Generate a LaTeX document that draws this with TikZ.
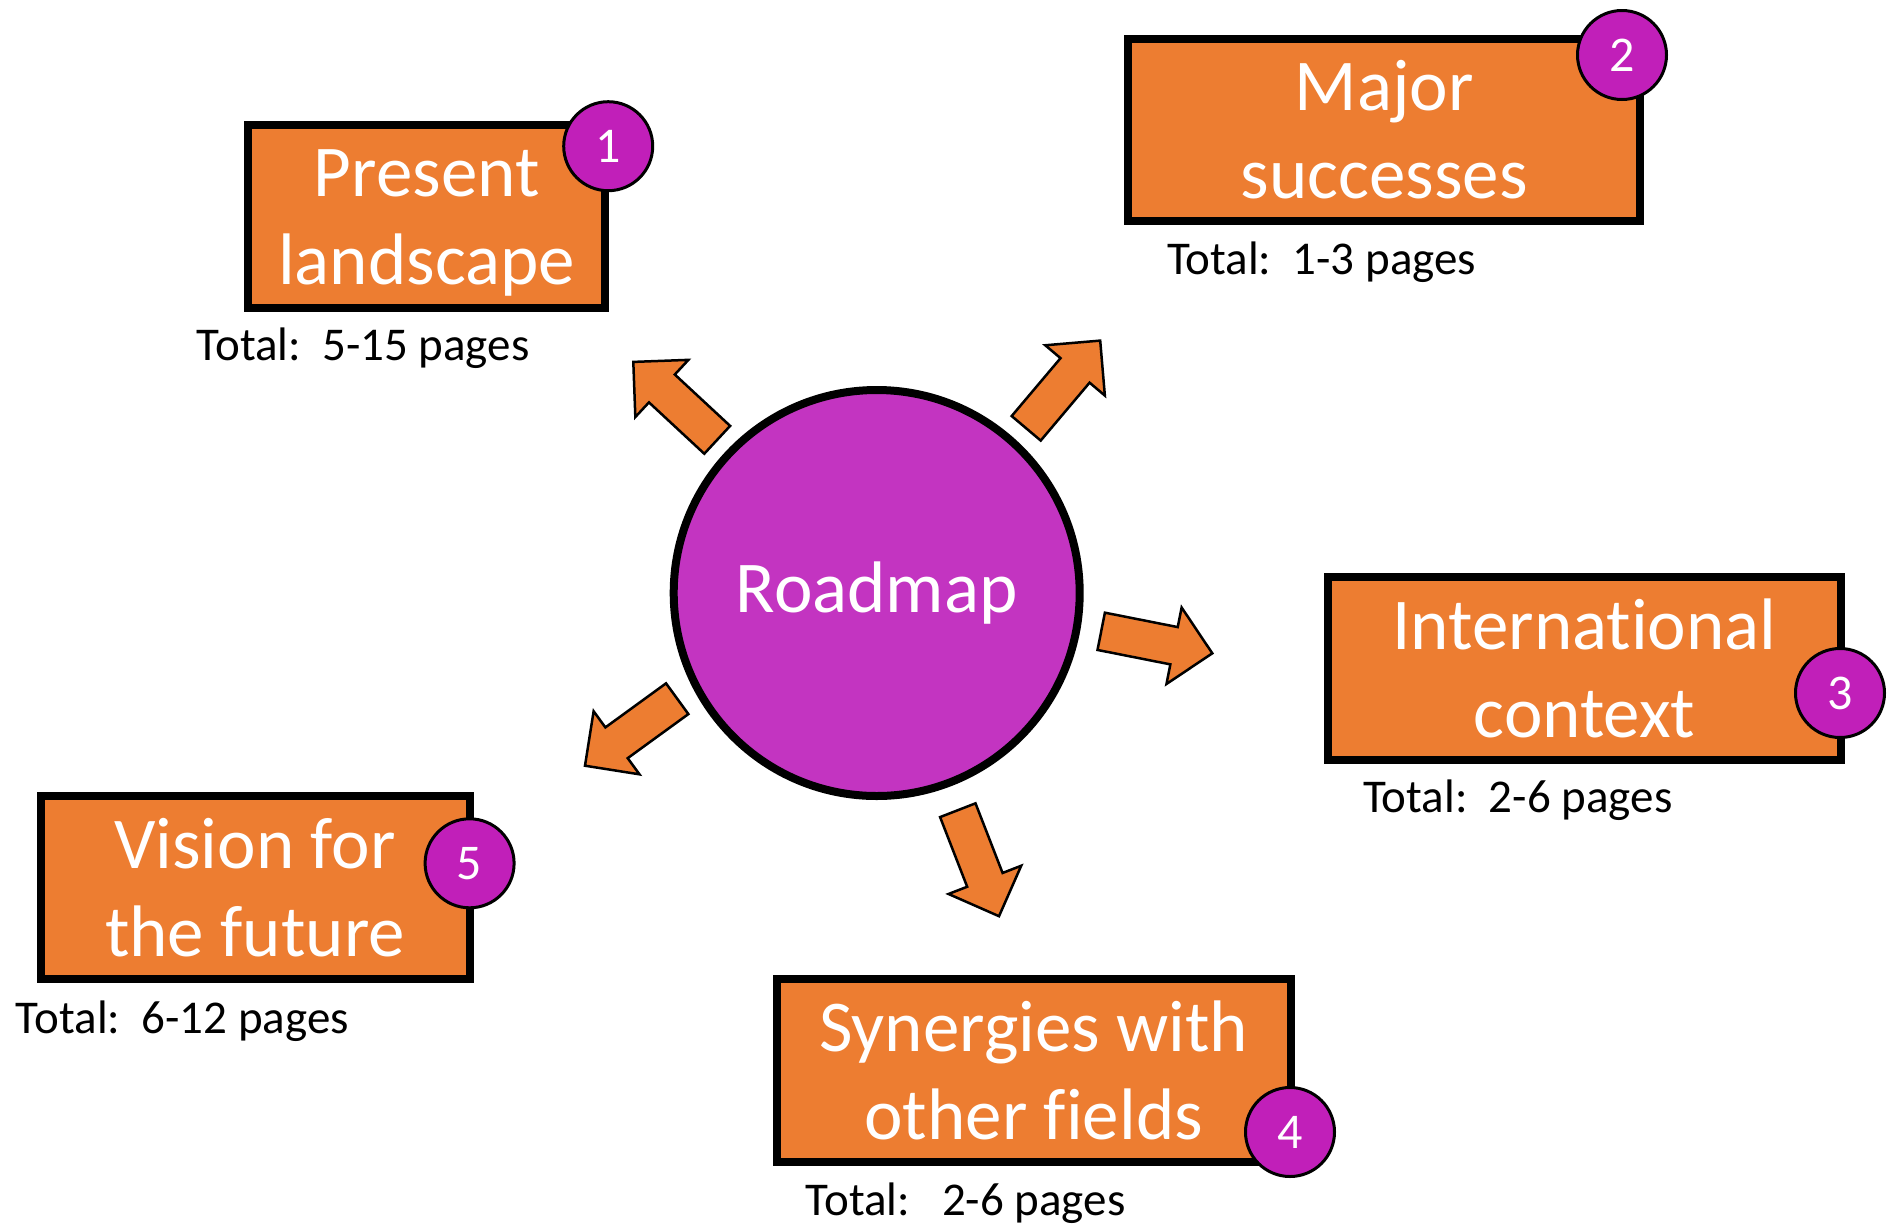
\documentclass[tikz,border=0pt]{standalone}
\usepackage{fontspec}
\setmainfont{Carlito}[Ligatures=NoCommon]
\usetikzlibrary{calc}
\definecolor{boxorange}{HTML}{ED7D31}
\definecolor{bigpurple}{HTML}{C334C1}
\definecolor{badgepurple}{HTML}{C11FB9}
\tikzset{
  boxtext/.style={text=white, inner sep=0pt, align=center, font=\fontsize{73}{88}\selectfont},
  topicbox/.style={boxtext, rectangle, draw=black, line width=8pt, fill=boxorange},
  badge/.style={circle, draw=black, line width=3pt, fill=badgepurple, text=white,
    minimum size=89pt, inner sep=0pt, font=\fontsize{50}{60}\selectfont},
  totallabel/.style={anchor=west, inner sep=0pt, font=\fontsize{47}{56}\selectfont},
  hub/.style={circle, draw=black, line width=8pt, fill=bigpurple, text=white,
    minimum size=406pt, inner sep=0pt, font=\fontsize{73}{88}\selectfont},
  blockarrow/.style={draw=black, line width=2.5pt, fill=boxorange, line join=miter},
}
\newcommand\blkarrow[2]{%
  \coordinate (bah) at ($(#2)!39pt!(#1)$);
  \draw[blockarrow] ($(#1)!19pt!90:(#2)$) -- ($(bah)!19pt!90:(#2)$) -- ($(bah)!39pt!90:(#2)$)
    -- (#2) -- ($(bah)!39pt!-90:(#2)$) -- ($(bah)!19pt!-90:(#2)$) -- ($(#1)!19pt!-90:(#2)$) -- cycle;
}
\begin{document}
\begin{tikzpicture}[x=1pt,y=-1pt]
\useasboundingbox (0,0) rectangle (1888,1227);

% central hub
\node[hub] (hub) at (876.7,593) {Roadmap};

% topic boxes
\node[topicbox, minimum width=357pt, minimum height=183pt] (b1) at (426.7,216.2) {};
\node[boxtext] (b1text) at ([yshift=-7pt]b1.center) {Present\\landscape};
\node[topicbox, minimum width=512pt, minimum height=182pt] (b2) at (1384.3,129.8) {Major\\successes};
\node[topicbox, minimum width=513pt, minimum height=183pt] (b3) at (1584.5,668.2) {International\\context};
\node[topicbox, minimum width=514pt, minimum height=183pt] (b4) at (1033.7,1070.5) {Synergies with\\other fields};
\node[topicbox, minimum width=429pt, minimum height=183pt] (b5) at (255,887.6) {Vision for\\the future};

% badges
\node[badge] (n1) at (608.2,146.2) {1};
\node[badge] (n2) at (1622,55) {2};
\node[badge] (n3) at (1840,693) {3};
\node[badge] (n4) at (1290,1132) {4};
\node[badge] (n5) at (469.6,863.3) {5};

% page totals
\node[totallabel] (t1) at (196.3,348) {Total:\ \ 5-15 pages};
\node[totallabel] (t2) at (1166.8,262.5) {Total:\ \ 1-3 pages};
\node[totallabel] (t3) at (1363,800.7) {Total:\ \ 2-6 pages};
\node[totallabel] (t4) at (805.5,1203) {Total:\ \ \ 2-6 pages};
\node[totallabel] (t5) at (15.7,1021) {Total:\ \ 6-12 pages};

% block arrows
\coordinate (a1s) at (717.2,439.8);  \coordinate (a1e) at (633.3,361.9);
\coordinate (a2s) at (1026.2,428.3); \coordinate (a2e) at (1100.2,340.6);
\coordinate (a3s) at (1101.2,631.3); \coordinate (a3e) at (1212.3,653.3);
\coordinate (a4s) at (957.8,810.2);  \coordinate (a4e) at (999,916.2);
\coordinate (a5s) at (677.2,698.7);  \coordinate (a5e) at (585,765.7);
\blkarrow{a1s}{a1e}
\blkarrow{a2s}{a2e}
\blkarrow{a3s}{a3e}
\blkarrow{a4s}{a4e}
\blkarrow{a5s}{a5e}
\end{tikzpicture}
\end{document}
